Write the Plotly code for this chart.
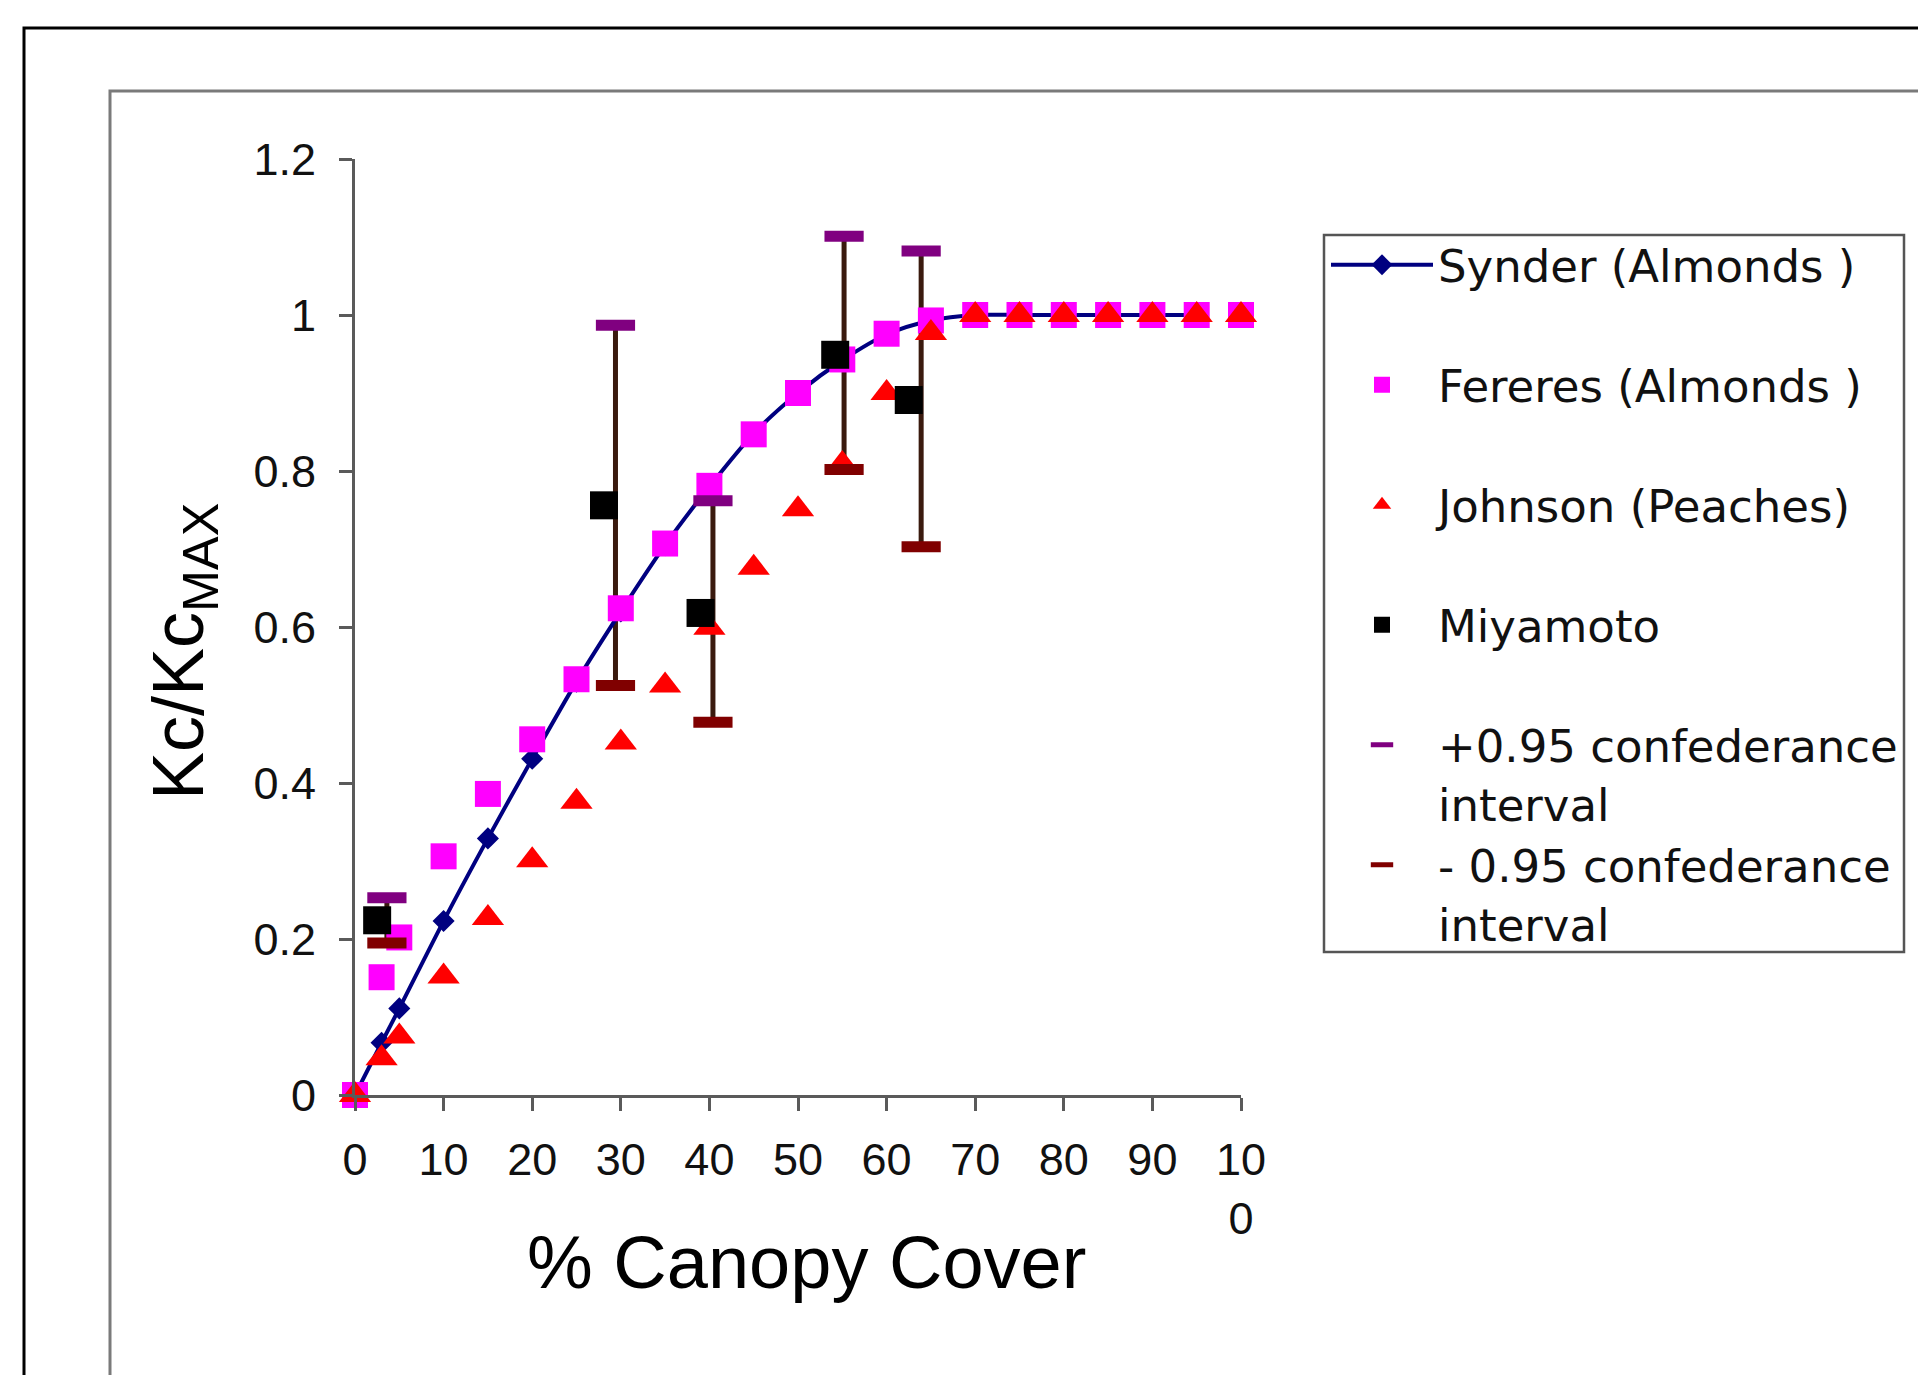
import plotly.graph_objects as go

# ---------------- data ----------------
synder_x = [0, 3, 5, 10, 15, 20, 25, 30, 35, 40, 45, 50, 55, 60, 65, 70, 75, 80, 85, 90, 95]
synder_y = [0, 0.067, 0.111, 0.223, 0.329, 0.431, 0.53, 0.62, 0.705, 0.78, 0.848, 0.90, 0.942, 0.975, 0.993, 1.0, 1.0, 1.0, 1.0, 1.0, 1.0]

fereres_x = [0, 3, 5, 10, 15, 20, 25, 30, 35, 40, 45, 50, 55, 60, 65, 70, 75, 80, 85, 90, 95, 100]
fereres_y = [0, 0.151, 0.202, 0.306, 0.386, 0.456, 0.533, 0.624, 0.707, 0.781, 0.847, 0.900, 0.943, 0.976, 0.993, 1.0, 1.0, 1.0, 1.0, 1.0, 1.0, 1.0]

johnson_x = [0, 3, 5, 10, 15, 20, 25, 30, 35, 40, 45, 50, 55, 60, 65, 70, 75, 80, 85, 90, 95, 100]
johnson_y = [0, 0.047, 0.075, 0.152, 0.227, 0.301, 0.376, 0.452, 0.525, 0.599, 0.676, 0.751, 0.809, 0.90, 0.977, 1.0, 1.0, 1.0, 1.0, 1.0, 1.0, 1.0]

miyamoto_x = [2.5, 28.1, 39.0, 54.2, 62.5]
miyamoto_y = [0.224, 0.756, 0.618, 0.949, 0.891]

ci_x = [3.6, 29.4, 40.4, 55.2, 63.9]
ci_upper = [0.253, 0.987, 0.762, 1.101, 1.082]
ci_lower = [0.195, 0.525, 0.478, 0.802, 0.703]

x_ticks = [0, 10, 20, 30, 40, 50, 60, 70, 80, 90, 100]
x_ticktext = ["0", "10", "20", "30", "40", "50", "60", "70", "80", "90", "10<br>0"]
y_ticks = [0, 0.2, 0.4, 0.6, 0.8, 1.0, 1.2]
y_ticktext = ["0", "0.2", "0.4", "0.6", "0.8", "1", "1.2"]

names = ["Synder (Almonds )<br> ", "Fereres (Almonds )<br> ", "Johnson (Peaches)<br> ",
         "Miyamoto<br> ", "+0.95 confederance<br>interval", "- 0.95 confederance<br>interval"]

# ---------------- layout geometry (pixels) ----------------
W, H = 1918, 1375
L, R, T, B = 355, 1241, 159, 1095


def px(xp):
    return (xp - L) / (R - L)


def py(yp):
    return (B - yp) / (B - T)


ARIAL = "Liberation Sans, Arial, sans-serif"
bar_color = "#3a1a0e"

fig = go.Figure()

# confidence interval connecting bars (drawn underneath)
fig.add_trace(go.Scatter(
    x=ci_x, y=ci_lower, mode="markers", showlegend=False, hoverinfo="skip",
    marker=dict(size=1, color="rgba(0,0,0,0)"),
    error_y=dict(type="data", symmetric=False,
                 array=[u - l for u, l in zip(ci_upper, ci_lower)],
                 arrayminus=[0] * len(ci_lower),
                 color=bar_color, thickness=5, width=0),
    cliponaxis=False,
))

fig.add_trace(go.Scatter(
    x=synder_x, y=synder_y, name=names[0], mode="lines+markers",
    line=dict(color="#000080", width=4, shape="spline", smoothing=0.8),
    marker=dict(symbol="diamond", size=17, color="#000080"),
    cliponaxis=False,
))
fig.add_trace(go.Scatter(
    x=fereres_x, y=fereres_y, name=names[1], mode="markers",
    marker=dict(symbol="square", size=26, color="#FF00FF"),
    cliponaxis=False,
))
fig.add_trace(go.Scatter(
    x=johnson_x, y=johnson_y, name=names[2], mode="markers",
    marker=dict(symbol="triangle-up", size=28, color="#FF0000"),
    cliponaxis=False,
))
fig.add_trace(go.Scatter(
    x=miyamoto_x, y=miyamoto_y, name=names[3], mode="markers",
    marker=dict(symbol="square", size=28, color="#000000"),
    cliponaxis=False,
))
fig.add_trace(go.Scatter(
    x=ci_x, y=ci_upper, name=names[4], mode="markers",
    marker=dict(symbol="line-ew", size=28, line=dict(color="#800080", width=11)),
    cliponaxis=False,
))
fig.add_trace(go.Scatter(
    x=ci_x, y=ci_lower, name=names[5], mode="markers",
    marker=dict(symbol="line-ew", size=28, line=dict(color="#800000", width=11)),
    cliponaxis=False,
))

axis_col = "#5a5a5a"
fig.update_layout(
    width=W, height=H,
    margin=dict(l=L, r=W - R, t=T, b=H - B, pad=0),
    paper_bgcolor="white", plot_bgcolor="white",
    showlegend=True,
    legend=dict(
        x=px(1326), y=py(229), xanchor="left", yanchor="top",
        font=dict(family="DejaVu Sans, sans-serif", size=45, color="#111111"),
        bgcolor="rgba(0,0,0,0)", borderwidth=0,
        itemwidth=102, valign="top", itemclick=False,
    ),
    xaxis=dict(
        range=[0, 100], tickmode="array", tickvals=x_ticks, ticktext=x_ticktext,
        showgrid=False, zeroline=False, showline=True, linecolor=axis_col, linewidth=3,
        ticks="outside", ticklen=13, tickwidth=2.5, tickcolor=axis_col,
        tickfont=dict(family=ARIAL, size=45, color="#111111"),
        ticklabelstandoff=10,
    ),
    yaxis=dict(
        range=[0, 1.2], tickmode="array", tickvals=y_ticks, ticktext=y_ticktext,
        showgrid=False, zeroline=False, showline=True, linecolor=axis_col, linewidth=3,
        ticks="outside", ticklen=13, tickwidth=2.5, tickcolor=axis_col,
        tickfont=dict(family=ARIAL, size=45, color="#111111"),
        ticklabelstandoff=14,
    ),
    annotations=[
        dict(text="% Canopy Cover", xref="paper", yref="paper", x=px(806), y=py(1262),
             xanchor="center", yanchor="middle", showarrow=False,
             font=dict(family=ARIAL, size=74, color="#000000")),
        dict(text="Kc/Kc<sub>MAX</sub>", xref="paper", yref="paper", x=px(183), y=py(652),
             xanchor="center", yanchor="middle", showarrow=False, textangle=-90,
             font=dict(family=ARIAL, size=72, color="#000000")),
    ],
    shapes=[
        dict(type="rect", xref="paper", yref="paper", x0=px(24), y0=py(28), x1=px(1960), y1=py(1420),
             line=dict(color="#000000", width=3), fillcolor="rgba(0,0,0,0)", layer="below"),
        dict(type="rect", xref="paper", yref="paper", x0=px(110), y0=py(91), x1=px(1960), y1=py(1420),
             line=dict(color="#7a7a7a", width=3), fillcolor="rgba(0,0,0,0)", layer="below"),
        dict(type="rect", xref="paper", yref="paper", x0=px(1324), y0=py(235), x1=px(1904), y1=py(952),
             line=dict(color="#555555", width=2.5), fillcolor="rgba(0,0,0,0)", layer="below"),
    ],
)

fig.write_html("out.html", config={"displayModeBar": False},
               post_script="document.body.style.margin='0';")
